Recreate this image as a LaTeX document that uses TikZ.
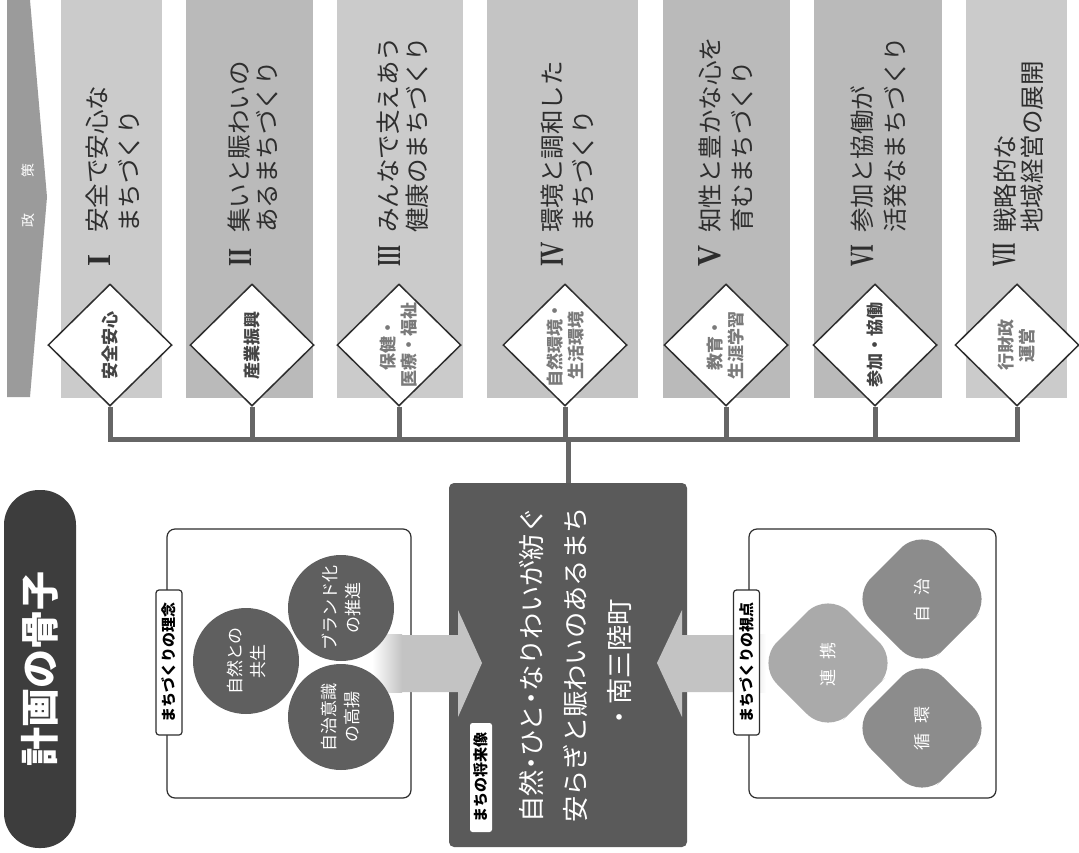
\documentclass[tikz,border=0pt]{standalone}
\usepackage{fontspec}
\usepackage{graphicx}
\usetikzlibrary{shapes.geometric}
\newfontfamily\jp{Noto Sans CJK JP}
\newfontfamily\rom{Liberation Serif}
\definecolor{ink}{HTML}{2E2E2E}
\definecolor{colA}{HTML}{CBCBCB}
\definecolor{colB}{HTML}{BABABA}
\definecolor{colC}{HTML}{C4C4C4}
\definecolor{band}{HTML}{9B9B9B}
\definecolor{wirec}{HTML}{666666}
\definecolor{vis}{HTML}{5A5A5A}
\definecolor{pill}{HTML}{3D3D3D}
\definecolor{arrowc}{HTML}{C3C3C3}
\definecolor{circc}{HTML}{5F5F5F}
\definecolor{rdA}{HTML}{AAAAAA}
\definecolor{rdB}{HTML}{8C8C8C}
\definecolor{dlabdark}{HTML}{444444}
\definecolor{dlablight}{HTML}{7A7A7A}
% rounded diamond: centre x, centre y, colour
\newcommand\rdshape[3]{%
  \fill[#3, rounded corners=30pt] (#1+36,#2+36) -- (#1,#2+72) -- (#1-72,#2) -- (#1,#2-72) -- (#1+72,#2) -- cycle;}
\begin{document}
\begin{tikzpicture}[x=1pt,y=-1pt,
  diam/.style={shape=diamond, draw=ink, fill=white, line width=1.5pt, minimum width=124pt, minimum height=122pt, inner sep=0pt},
  dlab/.style={rotate=90, align=center, inner sep=0pt, text=#1, font=\jp\bfseries\fontsize{17}{21}\selectfont},
  numer/.style={rotate=90, anchor=west, inner sep=0pt, text=ink, font=\rom\bfseries\fontsize{30}{30}\selectfont},
  ptext/.style={rotate=90, anchor=west, inner sep=0pt, text=ink, font=\jp\fontsize{24.5}{24.5}\selectfont},
  wire/.style={draw=wirec, line width=5pt, line join=miter},
  conceptbox/.style={draw=ink, fill=white, line width=1.2pt, rounded corners=8pt, minimum height=269pt, inner sep=0pt},
  tabbox/.style={rotate=90, draw=ink, fill=white, line width=1.2pt, rounded corners=3pt, minimum width=145pt, minimum height=26pt, inner sep=0pt, font=\jp\bfseries\fontsize{15}{15}\selectfont, text=black},
  circnode/.style={circle, fill=circc, minimum size=106pt, inner sep=0pt, rotate=90, align=center, text=white, font=\jp\fontsize{17}{23}\selectfont},
  rdtext/.style={rotate=90, inner sep=0pt, text=white, font=\jp\fontsize{17}{17}\selectfont},
  titlepill/.style={rotate=90, fill=pill, minimum width=358pt, minimum height=72pt, rounded corners=35pt, inner sep=0pt, text=white, font=\jp\bfseries\fontsize{39}{39}\selectfont}
]
\useasboundingbox (0,0) rectangle (1079,852);
\fill[white] (0,0) rectangle (1079,852);

% policy band
\fill[band] (7,0) -- (30,0) -- (47,197) -- (30,397) -- (7,397) -- cycle;
\node[rotate=90, inner sep=0pt, text=white, font=\jp\fontsize{14}{14}\selectfont] (seisaku) at (28,195) {政\hspace{36pt}策};

% policy columns
\fill[colA] (61,0) rectangle (162,398);
\fill[colB] (186,0) rectangle (313,398);
\fill[colA] (337,0) rectangle (463,398);
\fill[colC] (487,0) rectangle (638,398);
\fill[colB] (663,0) rectangle (790,398);
\fill[colB] (814,0) rectangle (942,398);
\fill[colA] (966,0) rectangle (1067,398);

% policy titles
\node[numer] (n1) at (99,267) {\resizebox{12pt}{22pt}{I}};
\node[ptext] (p1a) at (97,233) {安全で安心な};
\node[ptext] (p1b) at (129,233) {まちづくり};

\node[numer] (n2) at (240,267) {\resizebox{18pt}{22pt}{II}};
\node[ptext] (p2a) at (239,233) {集いと賑わいの};
\node[ptext] (p2b) at (267,233) {あるまちづくり};

\node[numer] (n3) at (389,267) {\resizebox{21pt}{22pt}{III}};
\node[ptext] (p3a) at (388,233) {みんなで支えあう};
\node[ptext] (p3b) at (417,233) {健康のまちづくり};

\node[numer] (n4) at (552,267) {\resizebox{25pt}{22pt}{IV}};
\node[ptext] (p4a) at (552,233) {環境と調和した};
\node[ptext] (p4b) at (583,233) {まちづくり};

\node[numer] (n5) at (710,267) {\resizebox{21pt}{22pt}{V}};
\node[ptext] (p5a) at (710,233) {知性と豊かな心を};
\node[ptext] (p5b) at (742,233) {育むまちづくり};

\node[numer] (n6) at (862,267) {\resizebox{22pt}{22pt}{VI}};
\node[ptext] (p6a) at (862,233) {参加と協働が};
\node[ptext] (p6b) at (895,233) {活発なまちづくり};

\node[numer] (n7) at (1004,267) {\resizebox{24pt}{22pt}{VII}};
\node[ptext] (p7a) at (1005,233) {戦略的な};
\node[ptext] (p7b) at (1032,233) {地域経営の展開};

% vision box
\node[fill=vis, rounded corners=5pt, minimum width=238pt, minimum height=364pt, inner sep=0pt] (vision) at (568,665) {};

% field diamonds
\node[diam] (d1) at (110,345) {};
\node[diam] (d2) at (252,345) {};
\node[diam] (d3) at (399,345) {};
\node[diam] (d4) at (565,345) {};
\node[diam] (d5) at (726,345) {};
\node[diam] (d6) at (875,345) {};
\node[diam] (d7) at (1017,345) {};

% wiring from the fields to the vision
\coordinate (hub) at (568,439);
\draw[wire] (d1.south) |- (hub) -| (d7.south);
\foreach \k in {2,...,6} \draw[wire] (d\k.south) -- (d\k.south |- hub);
\draw[wire] (hub) -- (vision.north);

\node[dlab=dlabdark] (d1t) at (d1) {安全安心};
\node[dlab=dlabdark] (d2t) at (d2) {産業振興};
\node[dlab=dlablight] (d3t) at (d3) {保健・\\医療・福祉};
\node[dlab=dlablight] (d4t) at (d4) {自然環境・\\生活環境};
\node[dlab=dlablight] (d5t) at (d5) {教育・\\生涯学習};
\node[dlab=dlabdark] (d6t) at (d6) {参加・協働};
\node[dlab=dlablight] (d7t) at (d7) {行財政\\運営};

% concept boxes
\node[conceptbox, minimum width=244pt] (lbox) at (289,663.5) {};
\node[conceptbox, minimum width=247pt] (rbox) at (872.5,663.5) {};

% block arrows into the vision
\fill[arrowc] (373,635) -- (458,635) -- (458,610) -- (482,663) -- (458,717) -- (458,692) -- (373,692) -- cycle;
\shade[left color=white, right color=arrowc] (372,634.5) rectangle (402,692.5);
\fill[arrowc] (765,635) -- (682,635) -- (682,610) -- (657,663) -- (682,717) -- (682,692) -- (765,692) -- cycle;
\shade[left color=arrowc, right color=white] (737,634.5) rectangle (766,692.5);

% vision text
\node[rotate=90, align=center, inner sep=0pt, text=white, font=\jp\fontsize{26.3}{44}\selectfont] (vt) at (575,665)
  {自然\makebox[0.5em]{・}ひと\makebox[0.5em]{・}なりわいが紡ぐ\\安らぎと賑わいのあるまち\\・南三陸町};
\node[rotate=90, fill=white, rounded corners=2.5pt, minimum width=109pt, minimum height=22pt, inner sep=0pt, text=black, font=\jp\bfseries\fontsize{15}{15}\selectfont] (vlabel) at (481,777.5) {まちの将来像};

% philosophy circles
\node[circnode] (c1) at (246,661) {自然との\\共生};
\node[circnode] (c2) at (341,608) {ブランド化\\の推進};
\node[circnode] (c3) at (341,717) {自治意識\\の高揚};

% viewpoint shapes
\rdshape{828}{663}{rdA}
\rdshape{922}{599}{rdB}
\rdshape{922}{728}{rdB}
\node[rdtext] (v1) at (828,664) {連\hspace{10pt}携};
\node[rdtext] (v2) at (922,600) {自\hspace{10pt}治};
\node[rdtext] (v3) at (922,728) {循\hspace{10pt}環};

% tabs
\node[tabbox] (ltab) at (169,662.5) {まちづくりの理念};
\node[tabbox] (rtab) at (746.5,662.5) {まちづくりの視点};

% title
\node[titlepill] (title) at (40,669) {計画の骨子};
\end{tikzpicture}
\end{document}
